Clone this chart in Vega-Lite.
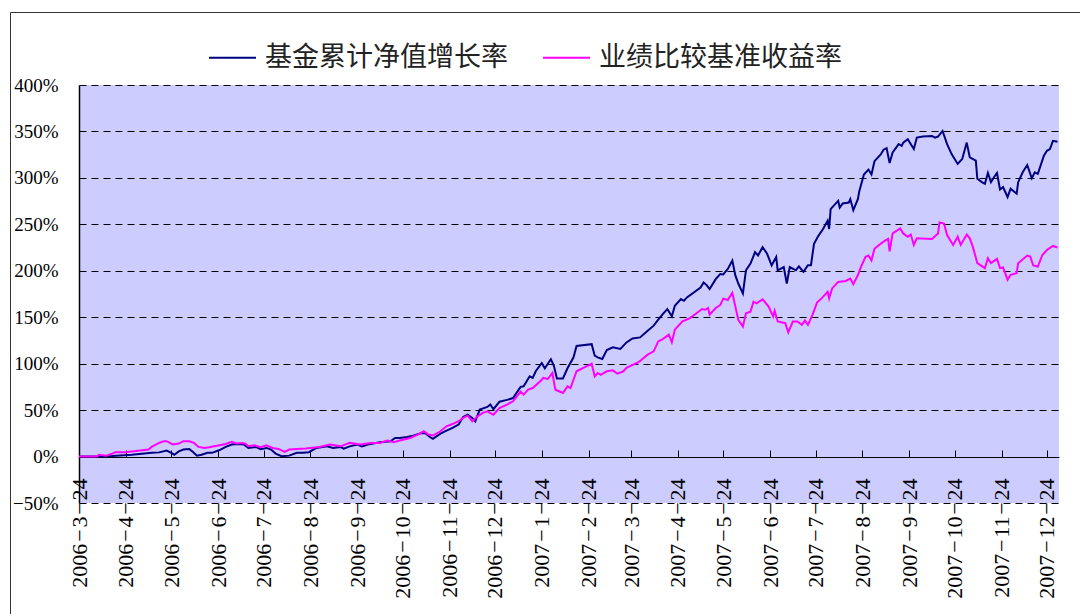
{
  "$schema": "https://vega.github.io/schema/vega-lite/v6.json",
  "width": 980,
  "height": 418,
  "autosize": "none",
  "padding": {"left": 79, "top": 85, "right": 21, "bottom": 111},
  "background": "white",
  "config": {
    "view": {"fill": "#CCCCFF", "stroke": null},
    "font": "Liberation Serif",
    "axis": {"labelColor": "black", "domainColor": "black", "tickColor": "black"}
  },
  "datasets": {
    "fund": [
      {"d":"2006-03-24","v":0},{"d":"2006-04-06","v":0},{"d":"2006-04-15","v":0.5},{"d":"2006-04-28","v":2},
      {"d":"2006-05-11","v":4},{"d":"2006-05-16","v":4.5},{"d":"2006-05-21","v":6.5},{"d":"2006-05-24","v":4},
      {"d":"2006-05-26","v":2},{"d":"2006-05-29","v":5.5},{"d":"2006-06-01","v":7.5},{"d":"2006-06-05","v":8},
      {"d":"2006-06-07","v":5.5},{"d":"2006-06-10","v":1},{"d":"2006-06-13","v":2},{"d":"2006-06-17","v":4},
      {"d":"2006-06-20","v":4},{"d":"2006-06-25","v":7},{"d":"2006-06-29","v":10.4},{"d":"2006-07-03","v":13},
      {"d":"2006-07-08","v":13.5},{"d":"2006-07-11","v":13},{"d":"2006-07-14","v":9.3},{"d":"2006-07-19","v":10.4},
      {"d":"2006-07-22","v":8},{"d":"2006-07-26","v":9.3},{"d":"2006-07-29","v":7.5},{"d":"2006-08-01","v":3.2},
      {"d":"2006-08-05","v":0.4},{"d":"2006-08-10","v":1},{"d":"2006-08-15","v":4},{"d":"2006-08-19","v":4},
      {"d":"2006-08-23","v":4.7},{"d":"2006-08-28","v":9.3},{"d":"2006-09-04","v":11},{"d":"2006-09-08","v":9.3},
      {"d":"2006-09-13","v":10.4},{"d":"2006-09-15","v":8.6},{"d":"2006-09-19","v":11},{"d":"2006-09-24","v":12.9},
      {"d":"2006-09-27","v":11},{"d":"2006-10-01","v":12.9},{"d":"2006-10-09","v":15.4},{"d":"2006-10-16","v":16.5},
      {"d":"2006-10-19","v":20},{"d":"2006-10-22","v":20},{"d":"2006-10-27","v":21},{"d":"2006-10-31","v":22.5},
      {"d":"2006-11-05","v":25},{"d":"2006-11-08","v":25},{"d":"2006-11-11","v":21},{"d":"2006-11-13","v":19},
      {"d":"2006-11-18","v":24.7},{"d":"2006-11-22","v":28},{"d":"2006-11-26","v":30.8},{"d":"2006-11-30","v":34.4},
      {"d":"2006-12-03","v":42.6},{"d":"2006-12-06","v":45.2},{"d":"2006-12-09","v":41.6},{"d":"2006-12-11","v":38},
      {"d":"2006-12-14","v":50.5},{"d":"2006-12-19","v":53.4},{"d":"2006-12-21","v":56},{"d":"2006-12-23","v":51},
      {"d":"2006-12-27","v":59},{"d":"2007-01-01","v":61},{"d":"2007-01-05","v":63},{"d":"2007-01-10","v":75},
      {"d":"2007-01-12","v":75.6},{"d":"2007-01-16","v":86.4},{"d":"2007-01-18","v":84.6},{"d":"2007-01-20","v":91.8},
      {"d":"2007-01-24","v":100.7},{"d":"2007-01-26","v":95},{"d":"2007-01-30","v":104.8},{"d":"2007-02-01","v":97.7},
      {"d":"2007-02-03","v":84},{"d":"2007-02-07","v":84},{"d":"2007-02-10","v":95},{"d":"2007-02-14","v":106.8},
      {"d":"2007-02-16","v":119},{"d":"2007-02-26","v":121},{"d":"2007-02-28","v":108.6},{"d":"2007-03-02","v":106.8},
      {"d":"2007-03-05","v":105},{"d":"2007-03-08","v":114.7},{"d":"2007-03-12","v":117.6},{"d":"2007-03-17","v":115.8},
      {"d":"2007-03-21","v":122.9},{"d":"2007-03-25","v":127.2},{"d":"2007-03-30","v":128.3},{"d":"2007-04-04","v":135.5},
      {"d":"2007-04-08","v":140.9},{"d":"2007-04-11","v":147.3},{"d":"2007-04-14","v":153.4},{"d":"2007-04-17","v":158.8},
      {"d":"2007-04-20","v":150.9},{"d":"2007-04-22","v":162.4},{"d":"2007-04-26","v":169.5},{"d":"2007-04-28","v":167.7},
      {"d":"2007-04-30","v":171.3},{"d":"2007-05-09","v":182},{"d":"2007-05-11","v":187.4},{"d":"2007-05-13","v":184.6},
      {"d":"2007-05-15","v":180.3},{"d":"2007-05-19","v":191},{"d":"2007-05-22","v":196.4},{"d":"2007-05-24","v":196},
      {"d":"2007-05-27","v":202},{"d":"2007-05-30","v":211},{"d":"2007-06-01","v":195},{"d":"2007-06-03","v":186},
      {"d":"2007-06-06","v":175.6},{"d":"2007-06-08","v":200.5},{"d":"2007-06-11","v":207.7},{"d":"2007-06-14","v":220},
      {"d":"2007-06-16","v":216.5},{"d":"2007-06-19","v":225.4},{"d":"2007-06-22","v":218.3},{"d":"2007-06-25","v":205.9},
      {"d":"2007-06-28","v":214.8},{"d":"2007-06-29","v":200.5},{"d":"2007-07-03","v":204},{"d":"2007-07-05","v":186.3},
      {"d":"2007-07-07","v":204},{"d":"2007-07-11","v":200.5},{"d":"2007-07-13","v":204.8},{"d":"2007-07-16","v":198.8},
      {"d":"2007-07-19","v":206},{"d":"2007-07-21","v":206},{"d":"2007-07-23","v":229},{"d":"2007-07-26","v":237.9},
      {"d":"2007-07-29","v":245},{"d":"2007-08-01","v":254},{"d":"2007-08-02","v":245},{"d":"2007-08-03","v":266.4},
      {"d":"2007-08-06","v":271.7},{"d":"2007-08-08","v":275.3},{"d":"2007-08-09","v":268},{"d":"2007-08-11","v":272.4},
      {"d":"2007-08-15","v":273.5},{"d":"2007-08-16","v":277},{"d":"2007-08-18","v":265.3},{"d":"2007-08-21","v":277},
      {"d":"2007-08-22","v":286},{"d":"2007-08-25","v":303.7},{"d":"2007-08-28","v":309},{"d":"2007-08-30","v":303.7},
      {"d":"2007-09-01","v":318},{"d":"2007-09-05","v":325},{"d":"2007-09-07","v":330.4},{"d":"2007-09-09","v":332},
      {"d":"2007-09-11","v":316},{"d":"2007-09-13","v":327.4},{"d":"2007-09-17","v":336.3},{"d":"2007-09-19","v":334.5},
      {"d":"2007-09-20","v":338},{"d":"2007-09-23","v":341.6},{"d":"2007-09-27","v":331},{"d":"2007-09-29","v":343.4},
      {"d":"2007-10-03","v":344.5},{"d":"2007-10-09","v":345.2},{"d":"2007-10-11","v":343.4},{"d":"2007-10-13","v":344.5},
      {"d":"2007-10-16","v":350.5},{"d":"2007-10-19","v":336.3},{"d":"2007-10-22","v":325.6},{"d":"2007-10-26","v":315},
      {"d":"2007-10-29","v":320.3},{"d":"2007-11-01","v":338},{"d":"2007-11-03","v":322},{"d":"2007-11-07","v":318.5},
      {"d":"2007-11-08","v":299},{"d":"2007-11-11","v":295.4},{"d":"2007-11-13","v":293.6},{"d":"2007-11-15","v":305.3},
      {"d":"2007-11-17","v":295.4},{"d":"2007-11-19","v":300.7},{"d":"2007-11-21","v":305.3},{"d":"2007-11-23","v":287.5},
      {"d":"2007-11-25","v":290},{"d":"2007-11-28","v":279.4},{"d":"2007-11-30","v":288.3},{"d":"2007-12-04","v":283},
      {"d":"2007-12-05","v":295.4},{"d":"2007-12-08","v":306},{"d":"2007-12-11","v":313.9},{"d":"2007-12-14","v":299.6},
      {"d":"2007-12-16","v":306},{"d":"2007-12-18","v":304.3},{"d":"2007-12-22","v":323.8},{"d":"2007-12-24","v":329.2},
      {"d":"2007-12-26","v":331},{"d":"2007-12-28","v":339.9},{"d":"2007-12-31","v":338.8}
    ],
    "bench": [
      {"d":"2006-03-24","v":0},{"d":"2006-04-05","v":0},{"d":"2006-04-06","v":2},{"d":"2006-04-11","v":1},
      {"d":"2006-04-15","v":3.2},{"d":"2006-04-17","v":4.7},{"d":"2006-04-24","v":4.7},{"d":"2006-04-28","v":5.4},
      {"d":"2006-05-09","v":7.5},{"d":"2006-05-11","v":10.4},{"d":"2006-05-16","v":14.7},{"d":"2006-05-19","v":16.5},
      {"d":"2006-05-21","v":16.5},{"d":"2006-05-25","v":13},{"d":"2006-05-29","v":14},{"d":"2006-06-01","v":16.5},
      {"d":"2006-06-05","v":16.5},{"d":"2006-06-08","v":14.7},{"d":"2006-06-11","v":10.4},{"d":"2006-06-15","v":9.3},
      {"d":"2006-06-18","v":10},{"d":"2006-06-25","v":12.2},{"d":"2006-06-29","v":13.6},{"d":"2006-07-03","v":15.8},
      {"d":"2006-07-06","v":14},{"d":"2006-07-10","v":14.7},{"d":"2006-07-12","v":14},{"d":"2006-07-14","v":11.1},
      {"d":"2006-07-18","v":12.2},{"d":"2006-07-22","v":10},{"d":"2006-07-26","v":12.2},{"d":"2006-07-30","v":9.3},
      {"d":"2006-08-03","v":8.2},{"d":"2006-08-07","v":5},{"d":"2006-08-10","v":7.5},{"d":"2006-08-15","v":8.2},
      {"d":"2006-08-21","v":8.6},{"d":"2006-08-30","v":10.4},{"d":"2006-09-06","v":12.9},{"d":"2006-09-13","v":11},
      {"d":"2006-09-19","v":14.7},{"d":"2006-09-26","v":12.9},{"d":"2006-10-03","v":14.7},{"d":"2006-10-09","v":14.7},
      {"d":"2006-10-14","v":17.2},{"d":"2006-10-18","v":15.4},{"d":"2006-10-22","v":17.2},{"d":"2006-10-29","v":20},
      {"d":"2006-11-03","v":23.7},{"d":"2006-11-07","v":27.2},{"d":"2006-11-10","v":23.7},{"d":"2006-11-13","v":22.6},
      {"d":"2006-11-18","v":27.2},{"d":"2006-11-22","v":32.6},{"d":"2006-11-26","v":35},{"d":"2006-11-30","v":38},
      {"d":"2006-12-03","v":41.6},{"d":"2006-12-06","v":44},{"d":"2006-12-09","v":38},{"d":"2006-12-12","v":42.6},
      {"d":"2006-12-16","v":47},{"d":"2006-12-19","v":48.7},{"d":"2006-12-23","v":45},{"d":"2006-12-27","v":52.3},
      {"d":"2007-01-01","v":56},{"d":"2007-01-05","v":59.5},{"d":"2007-01-10","v":70},{"d":"2007-01-12","v":66.7},
      {"d":"2007-01-15","v":72},{"d":"2007-01-18","v":73.8},{"d":"2007-01-23","v":81},{"d":"2007-01-25","v":84.6},
      {"d":"2007-01-28","v":83.5},{"d":"2007-01-31","v":90},{"d":"2007-02-02","v":72},{"d":"2007-02-07","v":68.4},
      {"d":"2007-02-10","v":75.6},{"d":"2007-02-12","v":73.8},{"d":"2007-02-16","v":91.8},{"d":"2007-02-26","v":100},
      {"d":"2007-02-28","v":86.4},{"d":"2007-03-02","v":90},{"d":"2007-03-04","v":88},{"d":"2007-03-08","v":91.8},
      {"d":"2007-03-12","v":92.8},{"d":"2007-03-15","v":89.2},{"d":"2007-03-19","v":91.8},{"d":"2007-03-21","v":95.4},
      {"d":"2007-03-29","v":101.5},{"d":"2007-04-04","v":109.7},{"d":"2007-04-08","v":113.3},{"d":"2007-04-11","v":124},
      {"d":"2007-04-14","v":126.5},{"d":"2007-04-18","v":131.2},{"d":"2007-04-20","v":123},{"d":"2007-04-22","v":136.6},
      {"d":"2007-04-27","v":145.5},{"d":"2007-05-02","v":149.1},{"d":"2007-05-10","v":158.8},{"d":"2007-05-12","v":158},
      {"d":"2007-05-14","v":159.9},{"d":"2007-05-15","v":152.7},{"d":"2007-05-19","v":159.9},{"d":"2007-05-22","v":163},
      {"d":"2007-05-24","v":170},{"d":"2007-05-27","v":168.5},{"d":"2007-05-30","v":176.3},{"d":"2007-06-01","v":161.4},
      {"d":"2007-06-03","v":147},{"d":"2007-06-06","v":140},{"d":"2007-06-08","v":154.3},{"d":"2007-06-11","v":156},
      {"d":"2007-06-13","v":166.7},{"d":"2007-06-15","v":165},{"d":"2007-06-19","v":169.2},{"d":"2007-06-23","v":161.4},
      {"d":"2007-06-26","v":150.7},{"d":"2007-06-27","v":157},{"d":"2007-06-29","v":145.4},{"d":"2007-07-04","v":143.6},
      {"d":"2007-07-06","v":133.6},{"d":"2007-07-09","v":145.4},{"d":"2007-07-12","v":145.4},{"d":"2007-07-15","v":141.8},
      {"d":"2007-07-17","v":146.4},{"d":"2007-07-19","v":141.8},{"d":"2007-07-22","v":152.5},{"d":"2007-07-25","v":165.7},
      {"d":"2007-07-28","v":170.3},{"d":"2007-08-01","v":177.4},{"d":"2007-08-02","v":170.3},{"d":"2007-08-04","v":181},
      {"d":"2007-08-08","v":188},{"d":"2007-08-13","v":189},{"d":"2007-08-16","v":191.6},{"d":"2007-08-18","v":185.6},
      {"d":"2007-08-21","v":195.2},{"d":"2007-08-23","v":204},{"d":"2007-08-26","v":214.8},{"d":"2007-08-28","v":216.5},
      {"d":"2007-08-30","v":211.2},{"d":"2007-09-01","v":223.7},{"d":"2007-09-05","v":229},{"d":"2007-09-08","v":232.6},
      {"d":"2007-09-10","v":234.3},{"d":"2007-09-11","v":221},{"d":"2007-09-13","v":240.2},{"d":"2007-09-18","v":245.6},
      {"d":"2007-09-20","v":240.2},{"d":"2007-09-23","v":236.7},{"d":"2007-09-25","v":239},{"d":"2007-09-27","v":227.8},
      {"d":"2007-09-29","v":234.9},{"d":"2007-10-09","v":234.2},{"d":"2007-10-13","v":240.2},{"d":"2007-10-14","v":252},
      {"d":"2007-10-17","v":250.9},{"d":"2007-10-19","v":238.4},{"d":"2007-10-23","v":227.8},{"d":"2007-10-26","v":236.7},
      {"d":"2007-10-28","v":227.8},{"d":"2007-11-01","v":239},{"d":"2007-11-03","v":234.9},{"d":"2007-11-05","v":226},
      {"d":"2007-11-08","v":208.2},{"d":"2007-11-13","v":202.8},{"d":"2007-11-15","v":213.5},{"d":"2007-11-17","v":208.2},
      {"d":"2007-11-21","v":212.8},{"d":"2007-11-23","v":202.8},{"d":"2007-11-25","v":203.6},{"d":"2007-11-28","v":190.4},
      {"d":"2007-11-30","v":195.7},{"d":"2007-12-04","v":197.5},{"d":"2007-12-05","v":208.2},{"d":"2007-12-11","v":216.4},
      {"d":"2007-12-13","v":215.3},{"d":"2007-12-15","v":205.7},{"d":"2007-12-18","v":204.6},{"d":"2007-12-21","v":217},
      {"d":"2007-12-24","v":222.4},{"d":"2007-12-28","v":226.7},{"d":"2007-12-31","v":225}
    ]
  },
  "layer": [
    {
      "data": {"name": "fund"},
      "mark": {"type": "line", "strokeWidth": 2},
      "encoding": {
        "x": {
          "field": "d", "type": "temporal",
          "scale": {"type": "utc", "nice": false, "domain": [{"year": 2006, "month": 3, "date": 24, "utc": true}, {"year": 2008, "month": 1, "date": 1, "utc": true}]},
          "axis": {
            "title": null, "grid": false, "offset": -46,
            "values": [
              {"year":2006,"month":3,"date":24,"utc":true},{"year":2006,"month":4,"date":24,"utc":true},{"year":2006,"month":5,"date":24,"utc":true},
              {"year":2006,"month":6,"date":24,"utc":true},{"year":2006,"month":7,"date":24,"utc":true},{"year":2006,"month":8,"date":24,"utc":true},
              {"year":2006,"month":9,"date":24,"utc":true},{"year":2006,"month":10,"date":24,"utc":true},{"year":2006,"month":11,"date":24,"utc":true},
              {"year":2006,"month":12,"date":24,"utc":true},{"year":2007,"month":1,"date":24,"utc":true},{"year":2007,"month":2,"date":24,"utc":true},
              {"year":2007,"month":3,"date":24,"utc":true},{"year":2007,"month":4,"date":24,"utc":true},{"year":2007,"month":5,"date":24,"utc":true},
              {"year":2007,"month":6,"date":24,"utc":true},{"year":2007,"month":7,"date":24,"utc":true},{"year":2007,"month":8,"date":24,"utc":true},
              {"year":2007,"month":9,"date":24,"utc":true},{"year":2007,"month":10,"date":24,"utc":true},{"year":2007,"month":11,"date":24,"utc":true},
              {"year":2007,"month":12,"date":24,"utc":true}
            ],
            "labelExpr": "utcFormat(datum.value, '%Y\u200a\u2212\u200a%-m\u200a\u2212\u200a%d')",
            "labelAngle": 270, "labelAlign": "right", "labelBaseline": "middle",
            "labelFont": "Liberation Serif", "labelFontSize": 22, "labelPadding": 28,
            "tickSize": -7, "tickWidth": 1, "domainWidth": 1,
            "labelOverlap": false, "labelFlush": false, "labelBound": false
          }
        },
        "y": {
          "field": "v", "type": "quantitative",
          "scale": {"domain": [-50, 400], "nice": false, "zero": false},
          "axis": {
            "title": null, "values": [-50, 0, 50, 100, 150, 200, 250, 300, 350, 400],
            "labelExpr": "format(datum.value, 'd') + '%'",
            "ticks": false, "labelPadding": 21, "labelFont": "Liberation Serif", "labelFontSize": 19,
            "grid": true, "gridColor": "black", "gridDash": [7, 5], "gridWidth": 1, "gridOpacity": 1,
            "domain": true, "domainWidth": 1.5
          }
        },
        "color": {
          "datum": "基金累计净值增长率", "type": "nominal",
          "scale": {"domain": ["基金累计净值增长率", "业绩比较基准收益率"], "range": ["#000080", "#FF00FF"]},
          "legend": {
            "title": null, "orient": "none", "legendX": 129, "legendY": -52, "direction": "horizontal",
            "symbolType": "stroke", "symbolSize": 2209, "symbolStrokeWidth": 2,
            "labelFont": "Noto Sans CJK SC", "labelFontSize": 27, "labelColor": "#222222",
            "labelOffset": 8, "columnPadding": 31, "padding": 0, "labelLimit": 600
          }
        },
        "opacity": {
          "datum": "frame", "type": "ordinal",
          "scale": {"domain": ["frame"], "range": [1]},
          "legend": {
            "title": null, "orient": "none", "legendX": -69, "legendY": -73,
            "padding": 560, "strokeColor": "#333333",
            "symbolSize": 0, "symbolOpacity": 0, "symbolStrokeWidth": 0,
            "labelExpr": "''", "labelOpacity": 0, "labelFontSize": 1, "labelOffset": 0
          }
        }
      }
    },
    {
      "data": {"name": "bench"},
      "mark": {"type": "line", "strokeWidth": 2},
      "encoding": {
        "x": {"field": "d", "type": "temporal"},
        "y": {"field": "v", "type": "quantitative"},
        "color": {"datum": "业绩比较基准收益率", "type": "nominal"}
      }
    }
  ]
}
